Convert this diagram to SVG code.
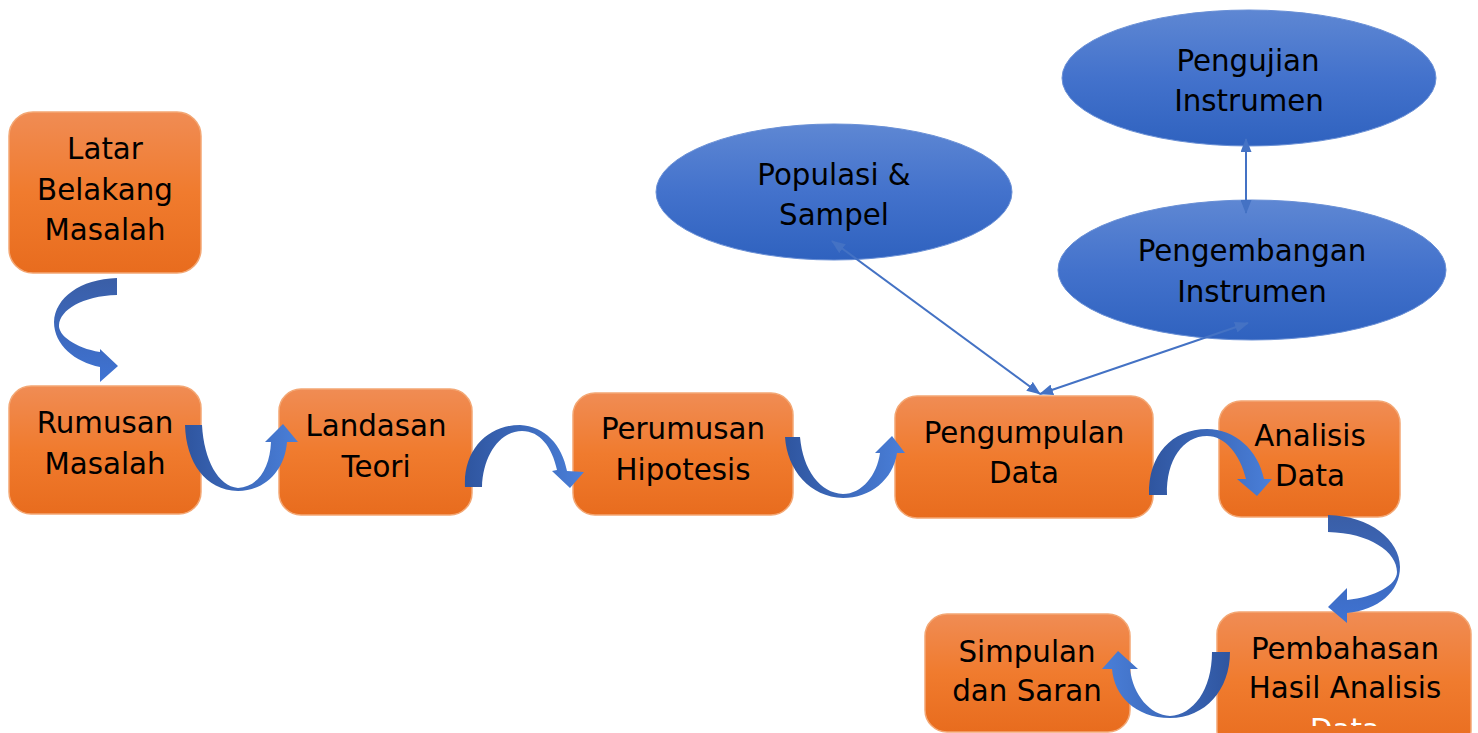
<svg xmlns="http://www.w3.org/2000/svg" width="1478" height="733" viewBox="0 0 1478 733">
<defs>
<linearGradient id="gOr" x1="0" y1="0" x2="0" y2="1"><stop offset="0" stop-color="#F08C54"/><stop offset="0.5" stop-color="#F07B2E"/><stop offset="1" stop-color="#E86C1E"/></linearGradient>
<linearGradient id="gEl" x1="0" y1="0" x2="0" y2="1"><stop offset="0" stop-color="#5E87D3"/><stop offset="0.5" stop-color="#4372CC"/><stop offset="1" stop-color="#2F62BF"/></linearGradient>
<linearGradient id="gTB" x1="0" y1="0" x2="0" y2="1"><stop offset="0" stop-color="#3A5EA6"/><stop offset="1" stop-color="#3F73D3"/></linearGradient>
<linearGradient id="gLR" x1="0" y1="0" x2="1" y2="0"><stop offset="0" stop-color="#2F559F"/><stop offset="1" stop-color="#4A7FD9"/></linearGradient>
<linearGradient id="gRL" x1="1" y1="0" x2="0" y2="0"><stop offset="0" stop-color="#2F559F"/><stop offset="1" stop-color="#4A7FD9"/></linearGradient>
<marker id="ah" viewBox="0 0 14 11" refX="13" refY="5.5" markerWidth="14" markerHeight="11" markerUnits="userSpaceOnUse" orient="auto-start-reverse"><path d="M0,0 L14,5.5 L0,11 Z" fill="#4472C4"/></marker>
<clipPath id="cut"><rect x="1217" y="600" width="260" height="126"/></clipPath>
</defs>
<style>
.box{fill:url(#gOr);stroke:#F3A774;stroke-width:1.5}
.ell{fill:url(#gEl);stroke:#6A90D6;stroke-width:1}
.t{font-family:"DejaVu Sans","Verdana",sans-serif;font-size:29.3px;fill:#000;text-anchor:middle}
.ln{stroke:#4472C4;stroke-width:2;fill:none;marker-start:url(#ah);marker-end:url(#ah)}
</style>
<rect width="1478" height="733" fill="#fff"/>

<g id="n-latar"><rect class="box" x="9" y="112" width="192" height="161" rx="24"/><text class="t" x="105" y="159">Latar</text><text class="t" x="105" y="200">Belakang</text><text class="t" x="105" y="240">Masalah</text></g>
<g id="n-rumusan"><rect class="box" x="9" y="386" width="192" height="128" rx="22"/><text class="t" x="105" y="433">Rumusan</text><text class="t" x="105" y="474">Masalah</text></g>
<g id="n-landasan"><rect class="box" x="279" y="389" width="193" height="126" rx="22"/><text class="t" x="376" y="436">Landasan</text><text class="t" x="376" y="477">Teori</text></g>
<g id="n-perumusan"><rect class="box" x="573" y="393" width="220" height="122" rx="22"/><text class="t" x="683" y="439">Perumusan</text><text class="t" x="683" y="480">Hipotesis</text></g>
<g id="n-pengumpulan"><rect class="box" x="895" y="396" width="258" height="122" rx="22"/><text class="t" x="1024" y="443">Pengumpulan</text><text class="t" x="1024" y="483">Data</text></g>
<g id="n-analisis"><rect class="box" x="1219" y="401" width="181" height="116" rx="22"/><text class="t" x="1310" y="446">Analisis</text><text class="t" x="1310" y="486">Data</text></g>
<g id="n-pembahasan"><rect class="box" x="1217" y="612" width="254" height="140" rx="22"/><text class="t" x="1345" y="659">Pembahasan</text><text class="t" x="1345" y="698">Hasil Analisis</text><text class="t" x="1345" y="740" style="fill:#fff" clip-path="url(#cut)">Data</text></g>
<g id="n-simpulan"><rect class="box" x="925" y="614" width="205" height="118" rx="22"/><text class="t" x="1027" y="662">Simpulan</text><text class="t" x="1027" y="701">dan Saran</text></g>

<g id="n-populasi"><ellipse class="ell" cx="834" cy="192" rx="178" ry="68"/><text class="t" x="834" y="185">Populasi &amp;</text><text class="t" x="834" y="225">Sampel</text></g>
<g id="n-pengujian"><ellipse class="ell" cx="1249" cy="78" rx="187" ry="68"/><text class="t" x="1248" y="71">Pengujian</text><text class="t" x="1249" y="111">Instrumen</text></g>
<g id="n-pengembangan"><ellipse class="ell" cx="1252" cy="270" rx="194" ry="70"/><text class="t" x="1252" y="261">Pengembangan</text><text class="t" x="1252" y="302">Instrumen</text></g>

<g id="connectors">
<line class="ln" x1="832" y1="241" x2="1040" y2="394"/>
<line class="ln" x1="1040" y1="394" x2="1248" y2="323"/>
<line class="ln" x1="1246" y1="139" x2="1246" y2="213"/>
<path fill="url(#gTB)" d="M117,278 C80,279 55,298 54,322 C54,345 75,362 100,367 L100,382 L118,366 L100,349 L100,352 C75,348 58,335 59,325 C60,310 82,296 117,295 Z"/>
<path fill="url(#gLR)" d="M185,425 L202,425 C204,460 218,486 238,488 C258,487 270,468 271,442 L265,442 L283,424 L298,442 L287,442 C285,470 265,491 238,491 C205,490 186,462 185,425 Z"/>
<path fill="url(#gLR)" d="M465,487 C463,450 488,425 520,425 C545,426 562,445 567,471 L584,472 L570,488 L552,471 L557,470 C552,447 540,431 522,431 C500,431 483,455 482,487 Z"/>
<path fill="url(#gLR)" d="M785,437 L800,437 C803,470 820,493 843,494 C862,494 877,475 880,453 L875,453 L892,436 L905,453 L897,453 C893,480 870,498 843,498 C810,497 787,470 785,437 Z"/>
<path fill="url(#gLR)" d="M1149,495 C1148,455 1172,429 1207,429 C1235,429 1258,450 1264,479 L1272,479 L1257,496 L1237,479 L1246,479 C1240,454 1225,436 1207,436 C1183,436 1166,460 1167,495 Z"/>
<path fill="url(#gTB)" d="M1328,515 C1370,516 1400,540 1400,567 C1400,592 1378,610 1347,613 L1347,623 L1328,607 L1347,588 L1347,600 C1375,597 1397,585 1397,572 C1397,552 1370,533 1328,532 Z"/>
<path fill="url(#gRL)" d="M1212,652 L1230,652 C1230,690 1205,718 1170,718 C1135,718 1114,695 1112,669 L1102,669 L1118,651 L1138,669 L1130,669 C1133,695 1150,715 1170,716 C1193,715 1212,690 1212,652 Z"/>
</g>
</svg>
